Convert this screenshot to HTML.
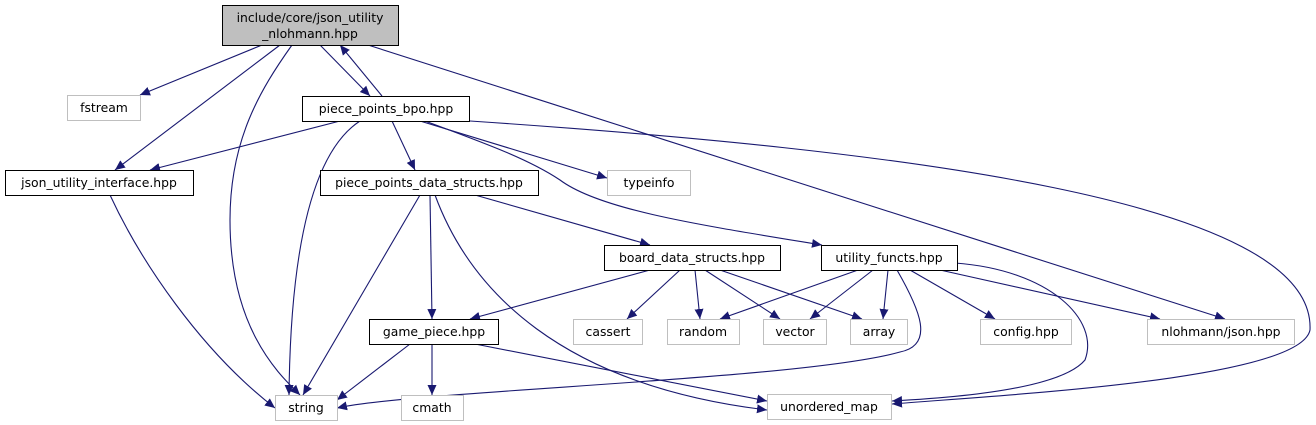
<!DOCTYPE html>
<html><head><meta charset="utf-8"><style>
html,body{margin:0;padding:0;background:#fff;}
svg{display:block;}
text{font-family:"DejaVu Sans","Liberation Sans",sans-serif;font-size:12.4px;fill:#000;}
</style></head><body>
<svg width="1316" height="425" viewBox="0 0 1316 425" xmlns="http://www.w3.org/2000/svg">
<defs>
<marker id="a" viewBox="0 0 10 10" refX="10" refY="5" markerWidth="10" markerHeight="10" markerUnits="userSpaceOnUse" orient="auto">
<path d="M0,0.5 L10,5 L0,9.5 z" fill="#191970"/>
</marker>
</defs>
<g fill="none" stroke="#191970" stroke-width="1.1" marker-end="url(#a)">
<path d="M262,45 L140,95"/>
<path d="M280,45 L115,170"/>
<path d="M292,45 C260,90 230,140 230,220 C230,330 280,375 300,395"/>
<path d="M320,45 L370,96"/>
<path d="M382,96 L340,45"/>
<path d="M368,45 L1225,319"/>
<path d="M340,121 L150,170"/>
<path d="M360,121 C300,160 290,300 289,395"/>
<path d="M392,121 L415,170"/>
<path d="M420,121 L607,178"/>
<path d="M425,121 C490,145 530,160 560,180 C600,210 700,225 822,245"/>
<path d="M470,121 C900,150 1316,200 1310,330 C1300,380 1000,395 892,404"/>
<path d="M420,195 L303,395"/>
<path d="M430,195 L432,319"/>
<path d="M435,195 C470,290 560,385 767,410"/>
<path d="M475,195 L650,245"/>
<path d="M650,270 L470,319"/>
<path d="M680,270 L627,319"/>
<path d="M695,270 L700,319"/>
<path d="M705,270 L780,319"/>
<path d="M720,270 L862,319"/>
<path d="M858,270 L720,319"/>
<path d="M873,270 L810,319"/>
<path d="M888,270 L883,319"/>
<path d="M897,270 C920,310 935,345 900,352 C800,380 420,390 337,408"/>
<path d="M910,270 L995,319"/>
<path d="M940,270 L1160,319"/>
<path d="M955,263 C1050,270 1100,320 1085,360 C1060,390 950,398 892,401"/>
<path d="M110,195 C140,260 200,350 275,408"/>
<path d="M410,344 L337,400"/>
<path d="M432,344 L432,395"/>
<path d="M475,344 L767,401"/>
</g>
<g stroke-width="1">
<rect x="222.5" y="5.5" width="176" height="40" fill="#bfbfbf" stroke="#000"/>
<rect x="67.5" y="95.5" width="73" height="25" fill="#fff" stroke="#bfbfbf"/>
<rect x="302.5" y="96.5" width="167" height="25" fill="#fff" stroke="#000"/>
<rect x="5.5" y="170.5" width="188" height="25" fill="#fff" stroke="#000"/>
<rect x="320.5" y="170.5" width="218" height="25" fill="#fff" stroke="#000"/>
<rect x="607.5" y="170.5" width="83" height="25" fill="#fff" stroke="#bfbfbf"/>
<rect x="604.5" y="245.5" width="176" height="25" fill="#fff" stroke="#000"/>
<rect x="821.5" y="245.5" width="136" height="25" fill="#fff" stroke="#000"/>
<rect x="369.5" y="319.5" width="129" height="25" fill="#fff" stroke="#000"/>
<rect x="573.5" y="319.5" width="69" height="25" fill="#fff" stroke="#bfbfbf"/>
<rect x="667.5" y="319.5" width="72" height="25" fill="#fff" stroke="#bfbfbf"/>
<rect x="763.5" y="319.5" width="63" height="25" fill="#fff" stroke="#bfbfbf"/>
<rect x="850.5" y="319.5" width="57" height="25" fill="#fff" stroke="#bfbfbf"/>
<rect x="980.5" y="319.5" width="91" height="25" fill="#fff" stroke="#bfbfbf"/>
<rect x="1147.5" y="319.5" width="147" height="25" fill="#fff" stroke="#bfbfbf"/>
<rect x="275.5" y="395.5" width="62" height="25" fill="#fff" stroke="#bfbfbf"/>
<rect x="401.5" y="395.5" width="62" height="25" fill="#fff" stroke="#bfbfbf"/>
<rect x="767.5" y="394.5" width="124" height="25" fill="#fff" stroke="#bfbfbf"/>
</g>
<g text-anchor="middle">
<text x="310" y="22">include/core/json_utility</text>
<text x="310" y="38">_nlohmann.hpp</text>
<text x="104" y="112">fstream</text>
<text x="386" y="113">piece_points_bpo.hpp</text>
<text x="99" y="187">json_utility_interface.hpp</text>
<text x="429" y="187">piece_points_data_structs.hpp</text>
<text x="649" y="187">typeinfo</text>
<text x="692" y="262">board_data_structs.hpp</text>
<text x="889" y="262">utility_functs.hpp</text>
<text x="434" y="336">game_piece.hpp</text>
<text x="608" y="336">cassert</text>
<text x="703" y="336">random</text>
<text x="795" y="336">vector</text>
<text x="879" y="336">array</text>
<text x="1026" y="336">config.hpp</text>
<text x="1221" y="336">nlohmann/json.hpp</text>
<text x="306" y="412">string</text>
<text x="432" y="412">cmath</text>
<text x="829" y="411">unordered_map</text>
</g>
</svg>
</body></html>
